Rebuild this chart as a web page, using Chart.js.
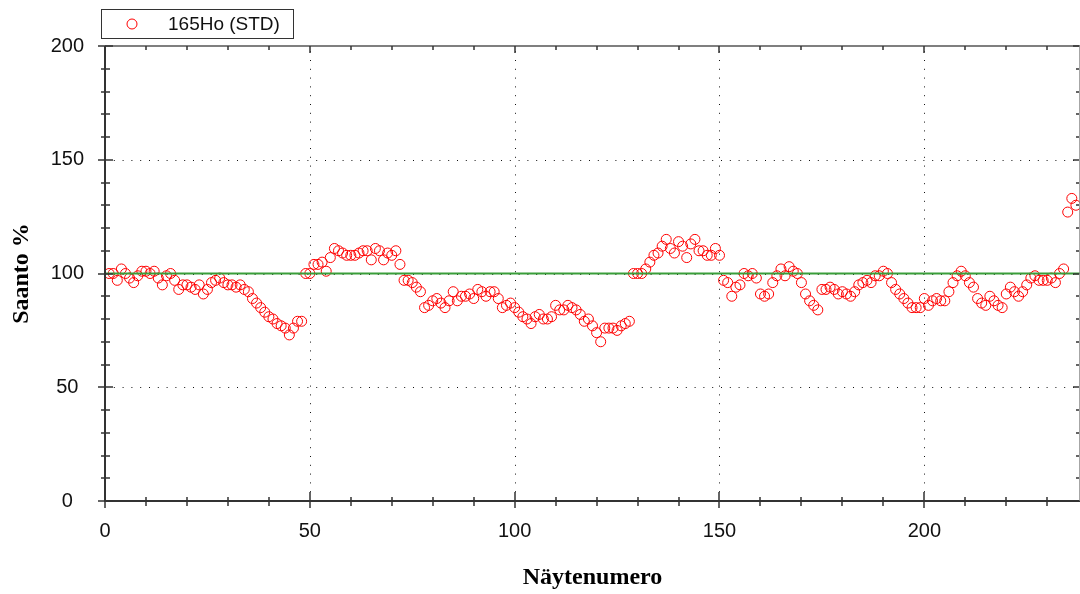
<!DOCTYPE html>
<html>
<head>
<meta charset="utf-8">
<title>165Ho (STD)</title>
<script src="https://cdn.jsdelivr.net/npm/chart.js@4.4.0/dist/chart.umd.min.js"></script>
<style>
  html, body { margin: 0; padding: 0; background: #fff; }
  canvas { display: block; }
</style>
</head>
<body>
<canvas id="chart" width="1080" height="594"></canvas>
<script>
// series name and yield values (%), one per sample number 1..237
const seriesName = "165Ho (STD)";
const saanto = [
  100, 100, 97, 102, 100, 98, 96, 99, 101, 101,
  100, 101, 98, 95, 99, 100, 97, 93, 95, 95,
  94, 93, 95, 91, 93, 96, 97, 98, 96, 95,
  95, 94, 95, 93, 92, 89, 87, 85, 83, 81,
  80, 78, 77, 76, 73, 76, 79, 79, 100, 100,
  104, 104, 105, 101, 107, 111, 110, 109, 108, 108,
  108, 109, 110, 110, 106, 111, 110, 106, 109, 108,
  110, 104, 97, 97, 96, 94, 92, 85, 86, 88,
  89, 87, 85, 88, 92, 88, 90, 90, 91, 89,
  93, 92, 90, 92, 92, 89, 85, 86, 87, 85,
  83, 81, 80, 78, 81, 82, 80, 80, 81, 86,
  84, 84, 86, 85, 84, 82, 79, 80, 77, 74,
  70, 76, 76, 76, 75, 77, 78, 79, 100, 100,
  100, 102, 105, 108, 109, 112, 115, 111, 109, 114,
  112, 107, 113, 115, 110, 110, 108, 108, 111, 108,
  97, 96, 90, 94, 95, 100, 99, 100, 98, 91,
  90, 91, 96, 99, 102, 99, 103, 101, 100, 96,
  91, 88, 86, 84, 93, 93, 94, 93, 91, 92,
  91, 90, 92, 95, 96, 97, 96, 99, 99, 101,
  100, 96, 93, 91, 89, 87, 85, 85, 85, 89,
  86, 88, 89, 88, 88, 92, 96, 99, 101, 99,
  96, 94, 89, 87, 86, 90, 88, 86, 85, 91,
  94, 92, 90, 92, 95, 98, 99, 97, 97, 97,
  98, 96, 100, 102, 127, 133, 130
];
const referenceLevel = 100;

// axis ranges and tick labels
const xMax = 238;
const yMax = 200;
const xTicks = [0, 50, 100, 150, 200];
const yTicks = [0, 50, 100, 150, 200];
const minorStep = 10;

const axisColor = '#333';

// draws the dotted grid, the boxed axes with their crossing tick marks and the legend
const framePlugin = {
  id: 'frame',
  beforeDatasetsDraw(chart) {
    const { ctx, chartArea: a, scales: { x, y } } = chart;
    ctx.save();
    ctx.strokeStyle = '#111';
    ctx.lineWidth = 1;
    ctx.setLineDash([1, 7.8]);
    xTicks.forEach(v => {
      if (v === 0) return;
      const px = Math.round(x.getPixelForValue(v)) + 0.5;
      ctx.beginPath();
      ctx.moveTo(px, a.bottom);
      ctx.lineTo(px, a.top);
      ctx.stroke();
    });
    yTicks.forEach(v => {
      if (v === 0 || v === yMax) return;
      const py = Math.round(y.getPixelForValue(v)) + 0.5;
      ctx.beginPath();
      ctx.moveTo(a.left, py);
      ctx.lineTo(a.right, py);
      ctx.stroke();
    });
    ctx.restore();
  },
  afterDatasetsDraw(chart) {
    const { ctx, chartArea: a, scales: { x, y } } = chart;
    const x0 = Math.round(a.left);
    const y0 = Math.round(a.bottom);
    const top = Math.round(a.top);
    const right = Math.round(a.right) - 1;
    ctx.save();

    // box lines
    ctx.strokeStyle = axisColor;
    ctx.lineWidth = 2;
    ctx.beginPath();
    ctx.moveTo(x0, top);
    ctx.lineTo(x0, y0);
    ctx.lineTo(a.right, y0);
    ctx.stroke();
    ctx.strokeStyle = '#555';
    ctx.lineWidth = 1.5;
    ctx.beginPath();
    ctx.moveTo(x0, top);
    ctx.lineTo(a.right, top);
    ctx.stroke();
    ctx.strokeStyle = '#888';
    ctx.beginPath();
    ctx.moveTo(right + 1, top);
    ctx.lineTo(right + 1, y0);
    ctx.stroke();

    // tick marks
    ctx.strokeStyle = axisColor;
    ctx.lineWidth = 1.5;
    for (let v = 0; v <= xMax; v += minorStep) {
      const px = Math.round(x.getPixelForValue(v));
      const major = v % 50 === 0;
      ctx.beginPath();
      ctx.moveTo(px, y0 - (major ? 9 : 4));
      ctx.lineTo(px, y0 + (major ? 7 : 5));
      ctx.moveTo(px, top);
      ctx.lineTo(px, top + (major ? 7 : 4));
      ctx.stroke();
    }
    for (let v = 0; v <= yMax; v += minorStep) {
      const py = Math.round(y.getPixelForValue(v));
      const major = v % 50 === 0;
      ctx.beginPath();
      ctx.moveTo(x0 - (major ? 7 : 4), py);
      ctx.lineTo(x0 + (major ? 8 : 5), py);
      ctx.moveTo(right, py);
      ctx.lineTo(right - (major ? 6 : 3), py);
      ctx.stroke();
    }

    // legend
    const lx = x0 - 4, ly = 9, lw = 192, lh = 29;
    ctx.fillStyle = '#fff';
    ctx.fillRect(lx, ly, lw, lh);
    ctx.strokeStyle = '#333';
    ctx.lineWidth = 1;
    ctx.strokeRect(lx + 0.5, ly + 0.5, lw, lh);
    ctx.strokeStyle = '#ff0000';
    ctx.beginPath();
    ctx.arc(lx + 31, ly + 15, 5, 0, Math.PI * 2);
    ctx.stroke();
    ctx.fillStyle = '#111';
    ctx.font = '19px "Liberation Sans", Arial, sans-serif';
    ctx.textBaseline = 'middle';
    ctx.textAlign = 'left';
    ctx.fillText(seriesName, lx + 67, ly + 15.5);
    ctx.restore();
  }
};

const tickFont = { family: '"Liberation Sans", Arial, sans-serif', size: 20 };
const titleFont = { family: '"Liberation Serif", "Times New Roman", serif', size: 24, weight: 'bold' };

new Chart(document.getElementById('chart'), {
  type: 'scatter',
  data: {
    datasets: [
      {
        label: 'Saanto 100 %',
        type: 'line',
        data: [{ x: 0, y: referenceLevel }, { x: xMax, y: referenceLevel }],
        borderColor: '#3a9e3a',
        borderWidth: 2,
        pointRadius: 0,
        order: 0
      },
      {
        label: seriesName,
        data: saanto.map((v, i) => ({ x: i + 1, y: v })),
        pointStyle: 'circle',
        pointRadius: 5,
        borderColor: '#ff0000',
        backgroundColor: 'rgba(0,0,0,0)',
        borderWidth: 1,
        order: 1
      }
    ]
  },
  options: {
    responsive: false,
    animation: false,
    devicePixelRatio: 1,
    layout: { autoPadding: false, padding: { top: 46, right: 0, left: 0, bottom: 0 } },
    plugins: {
      legend: { display: false },
      tooltip: { enabled: false }
    },
    scales: {
      x: {
        type: 'linear',
        min: 0,
        max: xMax,
        afterBuildTicks: s => { s.ticks = xTicks.map(v => ({ value: v })); },
        afterFit: s => { s.height = 93; s.paddingLeft = 0; s.paddingRight = 0; },
        grid: { display: false, drawTicks: false },
        border: { display: false },
        ticks: { font: tickFont, color: '#111', padding: 18, maxRotation: 0, autoSkip: false },
        title: { display: true, text: 'Näytenumero', font: titleFont, color: '#000', padding: { top: 0, bottom: 2 } }
      },
      y: {
        type: 'linear',
        min: 0,
        max: yMax,
        afterBuildTicks: s => { s.ticks = yTicks.map(v => ({ value: v })); },
        afterFit: s => { s.width = 105; s.paddingTop = 0; s.paddingBottom = 0; },
        grid: { display: false, drawTicks: false },
        border: { display: false },
        ticks: { font: tickFont, color: '#111', padding: 21, crossAlign: 'center' },
        title: { display: true, text: 'Saanto %', font: titleFont, color: '#000', padding: { top: 7, bottom: 0 } }
      }
    }
  },
  plugins: [framePlugin]
});
</script>
</body>
</html>
